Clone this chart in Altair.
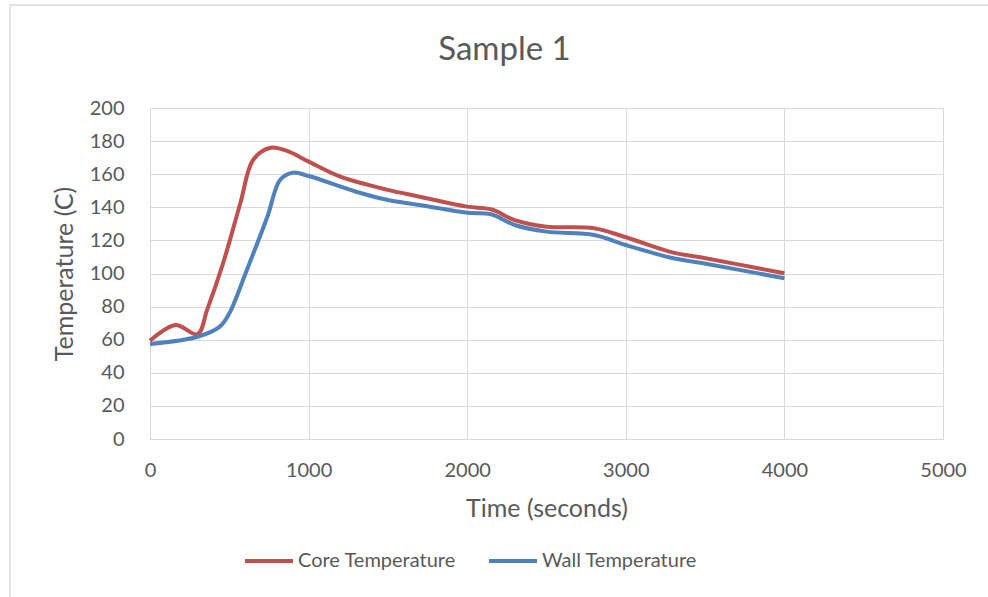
import altair as alt
import pandas as pd

core_time = [0, 160, 300, 360, 460, 570, 650, 760, 860, 1000, 1200, 1500, 1700, 2000, 2150, 2300, 2500, 2800, 3000, 3300, 3470, 4000]
core_temp = [59.4, 68.9, 63.4, 78, 106, 142.6, 168.6, 176, 174.2, 167.6, 158.5, 150.5, 146.4, 140.4, 138.8, 132.3, 128.3, 127.3, 121.9, 112.6, 109.8, 100.1]

wall_time = [0, 300, 440, 500, 610, 740, 820, 900, 1000, 1300, 1500, 1700, 2000, 2150, 2300, 2500, 2800, 3000, 3300, 3470, 4000]
wall_temp = [57.4, 61.8, 67.9, 75.9, 102, 134.3, 156.5, 160.9, 158.9, 149.4, 144.4, 141.4, 136.7, 135.8, 129.3, 125.3, 123.3, 117.2, 109.2, 106.5, 97.1]

series_names = ["Core Temperature", "Wall Temperature"]
series_colors = ["#C0504D", "#4F81BD"]

df = pd.concat([
    pd.DataFrame({"Time": core_time, "Temp": core_temp, "Series": series_names[0]}),
    pd.DataFrame({"Time": wall_time, "Temp": wall_temp, "Series": series_names[1]}),
])

FONT = "Lato"
TXT = "#595959"
GRID = "#d9d9d9"

lines = alt.Chart(df).mark_line(strokeWidth=4, interpolate="catmull-rom").encode(
    x=alt.X("Time:Q", scale=alt.Scale(domain=[0, 5000], nice=False),
            axis=alt.Axis(title="Time (seconds)", values=[0, 1000, 2000, 3000, 4000, 5000],
                          format="d", ticks=False, labelFlush=False, labelPadding=21,
                          titlePadding=16, domainColor=GRID, gridColor=GRID)),
    y=alt.Y("Temp:Q", scale=alt.Scale(domain=[0, 200], nice=False),
            axis=alt.Axis(title="Temperature (C)", values=list(range(0, 201, 20)),
                          ticks=False, domain=False, labelPadding=26, titlePadding=12,
                          gridColor=GRID)),
    color=alt.Color("Series:N", scale=alt.Scale(domain=series_names, range=series_colors),
                    legend=alt.Legend(title=None, orient="none", direction="horizontal",
                                      legendX=93, legendY=427, symbolType="stroke",
                                      symbolSize=2300, symbolStrokeWidth=4,
                                      labelFontSize=20, labelColor=TXT, labelFont=FONT,
                                      columnPadding=25, labelOffset=3)),
)

border = alt.Chart(pd.DataFrame({"a": [0]})).mark_rect(
    fill="transparent", stroke=GRID, strokeWidth=1.5
).encode(x=alt.value(-140), x2=alt.value(850), y=alt.value(-103), y2=alt.value(495))

chart = alt.layer(border, lines).properties(
    width=793, height=331,
    padding={"left": 150, "top": 108, "right": 45, "bottom": 158},
    autosize=alt.AutoSizeParams(type="none"),
    title=alt.TitleParams("Sample 1", fontSize=33, color=TXT, font=FONT, fontWeight="normal",
                          anchor="middle", baseline="alphabetic", dx=-42, offset=-89),
).configure_axis(
    labelFont=FONT, titleFont=FONT, labelFontSize=20, titleFontSize=25,
    labelColor=TXT, titleColor=TXT, titleFontWeight="normal",
).configure_view(stroke=GRID)

chart.save("out.html", embed_options={"renderer": "svg", "actions": False})
